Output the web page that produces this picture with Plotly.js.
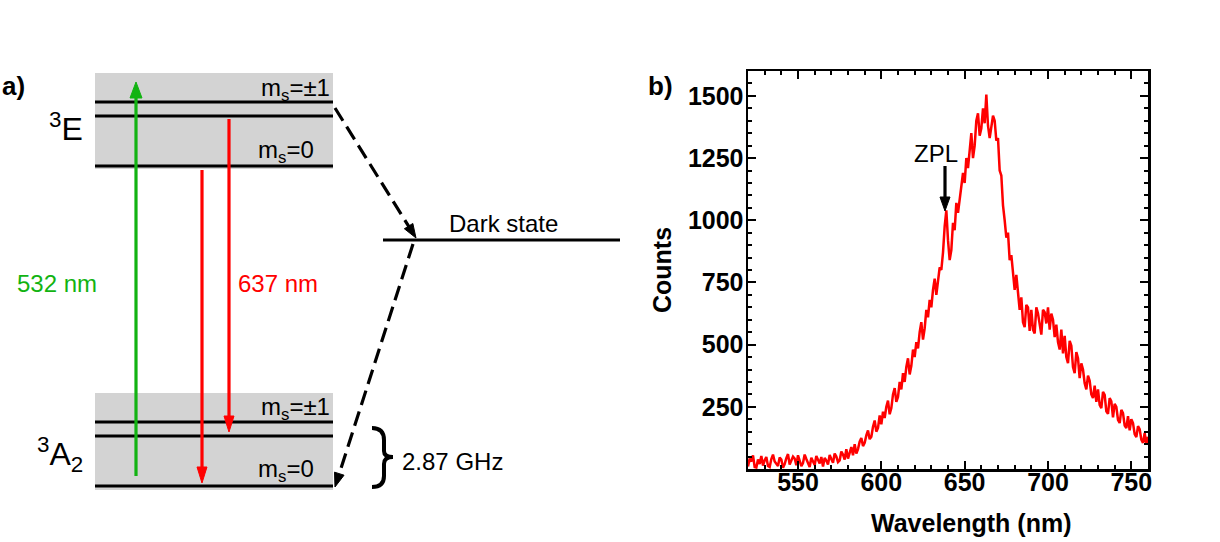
<!DOCTYPE html>
<html>
<head>
<meta charset="utf-8">
<script src="https://cdn.plot.ly/plotly-3.0.1.min.js"></script>
<style>html,body{margin:0;padding:0;background:#fff;}#chart{width:1220px;height:542px;}</style>
</head>
<body>
<div id="chart"></div>
<script>
// ---------- Panel b data (PL spectrum) ----------
const wlStart = 520;   // nm, first sample
const wlStep = 1;      // nm between samples
const counts = [
10,42,30,55,8,6,38,20,52,14,
35,48,12,8,40,58,30,22,12,46,
38,5,20,44,60,18,34,50,42,15,
55,30,12,24,58,40,20,8,45,28,
16,52,38,22,48,10,44,34,18,56,
40,25,62,50,28,35,70,58,38,80,
42,70,88,55,100,62,80,110,125,92,
105,135,155,120,130,170,195,150,165,215,
180,230,205,250,275,220,245,300,325,270,
290,350,320,385,350,410,445,380,415,480,
450,510,485,550,590,520,565,640,610,680,
650,720,765,700,745,810,800,870,975,1040,
920,840,880,990,960,1070,1030,1090,1130,1190,
1150,1250,1210,1300,1350,1250,1300,1400,1430,1340,
1370,1450,1390,1505,1380,1330,1370,1420,1400,1320,
1330,1200,1180,1060,1000,930,950,840,860,770,
720,780,690,640,690,590,570,660,650,555,
640,560,545,650,625,575,540,640,630,585,
650,560,625,600,530,580,510,480,560,465,
535,450,425,515,495,410,385,470,445,365,
425,400,345,320,375,355,300,285,335,270,
320,258,245,310,298,232,222,285,272,208,
262,250,198,185,238,225,175,165,212,155,
200,185,140,128,172,160,118,105,145,98,130
];
const xTickVals = [550, 600, 650, 700, 750];
const yTickVals = [250, 500, 750, 1000, 1250, 1500];
const xTitle = 'Wavelength (nm)';
const yTitle = 'Counts';

// ---------- Panel a labels ----------
const stateLabels = ['<sup>3</sup>E', '<sup>3</sup>A<sub>2</sub>'];
const spinLabels = ['m<sub>s</sub>=±1', 'm<sub>s</sub>=0'];
const transitionLabels = ['532 nm', '637 nm'];
const darkLabel = 'Dark state';
const splitLabel = '2.87 GHz';
const zplLabel = 'ZPL';

// ---------- helpers: figure pixel -> paper ----------
const W = 1220, H = 542;
const FONT = 'Arial, "Liberation Sans", sans-serif';
const GREEN = '#12b312', RED = '#ff0000', GREY = '#d3d3d3';
function px(x){ return x / W; }
function py(y){ return 1 - y / H; }
function pathOf(pts, close){ return 'M' + pts.map(p => px(p[0]).toFixed(5) + ',' + py(p[1]).toFixed(5)).join(' L') + (close ? ' Z' : ''); }
const shapes = [];
function rect(x0, y0, x1, y1, color){
  shapes.push({type:'rect', xref:'paper', yref:'paper', x0:px(x0), x1:px(x1), y0:py(y1), y1:py(y0), fillcolor:color, line:{width:0}, layer:'below'});
}
function seg(x0, y0, x1, y1, color, w, dash){
  shapes.push({type:'line', xref:'paper', yref:'paper', x0:px(x0), y0:py(y0), x1:px(x1), y1:py(y1), line:{color:color, width:w, dash:dash || 'solid'}});
}
function arrow(x0, y0, x1, y1, color, w, dash, hl, hw){
  const dx = x1 - x0, dy = y1 - y0, L = Math.hypot(dx, dy), ux = dx / L, uy = dy / L;
  const bx = x1 - ux * hl, by = y1 - uy * hl;
  seg(x0, y0, x1 - ux * hl * 0.7, y1 - uy * hl * 0.7, color, w, dash);
  shapes.push({type:'path', xref:'paper', yref:'paper',
    path: pathOf([[x1, y1], [bx - uy * hw, by + ux * hw], [bx + uy * hw, by - ux * hw]], true),
    fillcolor: color, line:{color: color, width: 1}});
}
function P(x, y){ return px(x).toFixed(5) + ',' + py(y).toFixed(5); }

// ---------- Panel a geometry ----------
rect(95, 73, 333, 169, GREY);
rect(95, 393, 333, 490, GREY);
[102, 116, 166, 422, 436, 486].forEach(y => seg(95, y, 333, y, 'black', 3.2));
seg(383, 240, 620, 240, 'black', 3.2);
arrow(136, 476, 136, 82, GREEN, 3.2, null, 16, 6);
arrow(202, 170, 202, 483, RED, 3.2, null, 16, 5);
arrow(229, 119, 229, 432, RED, 3.2, null, 16, 5);
arrow(335, 108, 416, 238, 'black', 3.2, '15px,7px', 14, 5);
arrow(413, 244, 335, 487, 'black', 3.2, '15px,7px', 14, 5);
shapes.push({type:'path', xref:'paper', yref:'paper',
  path: 'M' + P(372,428) + ' Q' + P(384,428) + ' ' + P(384,440) + ' L' + P(384,451) +
        ' Q' + P(384,457) + ' ' + P(393,457) + ' Q' + P(384,457) + ' ' + P(384,464) +
        ' L' + P(384,476) + ' Q' + P(384,487) + ' ' + P(372,487),
  line:{color:'black', width:4}});
arrow(945, 166, 945, 211, 'black', 3.2, null, 14, 5);

const ann = [];
function txt(text, x, y, size, color, xanchor, bold){
  ann.push({text:text, xref:'paper', yref:'paper', x:px(x), y:py(y), xanchor:xanchor || 'left', yanchor:'middle',
    showarrow:false, font:{family:FONT, size:size, color:color || 'black', weight: bold ? 'bold' : 'normal'}});
}
txt('a)', 0, 86, 26, 'black', 'left', true);
txt('b)', 646, 86, 26, 'black', 'left', true);
txt(stateLabels[0], 47, 127, 32);
txt(stateLabels[1], 35, 454, 32);
txt(spinLabels[0], 332, 89, 24, 'black', 'right');
txt(spinLabels[1], 256, 151, 24);
txt(spinLabels[0], 332, 408, 24, 'black', 'right');
txt(spinLabels[1], 256, 470, 24);
txt(transitionLabels[0], 15, 283, 24, GREEN);
txt(transitionLabels[1], 236, 283, 24, RED);
txt(darkLabel, 447, 223, 24);
txt(splitLabel, 400, 461, 24);
txt(zplLabel, 912, 153, 24);

const axisFont = {family:FONT, size:25, color:'black', weight:'bold'};
// x-axis title (placed as in the reference, slightly right of the axis centre)
ann.push({text:xTitle, xref:'paper', yref:'paper', x:px(971), y:py(523), xanchor:'center', yanchor:'middle',
  showarrow:false, font:axisFont});

const common = {showline:true, linewidth:2.5, linecolor:'black', mirror:'allticks', ticks:'inside', ticklen:8, tickwidth:2,
  tickcolor:'black', showgrid:false, zeroline:false, fixedrange:true, tickfont:axisFont};

const layout = {
  width:W, height:H, margin:{l:0, r:0, t:0, b:0}, paper_bgcolor:'white', plot_bgcolor:'rgba(0,0,0,0)', showlegend:false,
  xaxis: Object.assign({}, common, {
    domain:[748/W, 1148/W], range:[520, 760], tickmode:'array', tickvals:xTickVals,
    minor:{dtick:10, ticks:'inside', ticklen:4, tickwidth:2, tickcolor:'black'},
    ticklabelstandoff:-11
  }),
  yaxis: Object.assign({}, common, {
    domain:[1 - 469/H, 1 - 71/H], range:[0, 1600], tickmode:'array', tickvals:yTickVals,
    minor:{dtick:50, ticks:'inside', ticklen:4, tickwidth:2, tickcolor:'black'},
    ticklabelstandoff:-3,
    title:{text:yTitle, font:axisFont, standoff:9}
  }),
  shapes: shapes,
  annotations: ann
};

const trace = {type:'scatter', mode:'lines', x0:wlStart, dx:wlStep, y:counts,
  line:{color:RED, width:2.5}, hoverinfo:'skip', cliponaxis:true};

Plotly.newPlot('chart', [trace], layout, {staticPlot:true, displayModeBar:false});
</script>
</body>
</html>
